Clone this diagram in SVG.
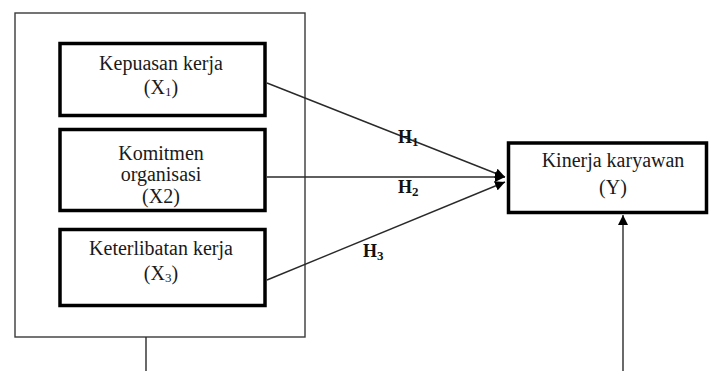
<svg xmlns="http://www.w3.org/2000/svg" width="710" height="371" viewBox="0 0 710 371">
<style>
.frame{fill:none;stroke:#3a3a3a;stroke-width:1.4}
.node{fill:#fff;stroke:#000;stroke-width:3.5}
.t{font-family:"Liberation Serif","Times New Roman",serif;font-size:20px;fill:#1a1a1a;text-anchor:middle}
.h{font-family:"Liberation Serif","Times New Roman",serif;font-size:18px;font-weight:bold;fill:#111}
.sub{font-size:13px}
.c{fill:none;stroke:#2a2a2a;stroke-width:1.4}
</style>
<defs>
<marker id="ah" viewBox="0 0 10 10" refX="10" refY="5" markerWidth="10" markerHeight="10" markerUnits="userSpaceOnUse" orient="auto">
<path d="M0,0 L10,5 L0,10 z" fill="#000"/>
</marker>
</defs>
<rect id="frame" class="frame" x="15" y="13" width="290" height="324"/>
<g id="connectors">
<line class="c" x1="267" y1="83" x2="505" y2="177" marker-end="url(#ah)"/>
<line class="c" x1="267" y1="177" x2="505" y2="177" marker-end="url(#ah)"/>
<line class="c" x1="267" y1="280" x2="505" y2="182" marker-end="url(#ah)"/>
<line class="c" x1="146" y1="337" x2="146" y2="371"/>
<line class="c" x1="623" y1="371" x2="623" y2="215" marker-end="url(#ah)"/>
<text class="h" x="398" y="143">H<tspan class="sub" dy="3">1</tspan></text>
<text class="h" x="398" y="193">H<tspan class="sub" dy="3">2</tspan></text>
<text class="h" x="363" y="257">H<tspan class="sub" dy="3">3</tspan></text>
</g>
<g id="x1">
<rect class="node" x="60" y="43.5" width="205" height="72"/>
<text class="t" x="161" y="70">Kepuasan kerja</text>
<text class="t" x="161" y="94">(X<tspan class="sub" dy="2">1</tspan><tspan dy="-2">)</tspan></text>
</g>
<g id="x2">
<rect class="node" x="60" y="129.5" width="205" height="81"/>
<text class="t" x="161" y="160">Komitmen</text>
<text class="t" x="161" y="181">organisasi</text>
<text class="t" x="161" y="203">(X2)</text>
</g>
<g id="x3">
<rect class="node" x="60" y="229.5" width="205" height="76"/>
<text class="t" x="161" y="255">Keterlibatan kerja</text>
<text class="t" x="161" y="280">(X<tspan class="sub" dy="2">3</tspan><tspan dy="-2">)</tspan></text>
</g>
<g id="y">
<rect class="node" x="508.5" y="143" width="198" height="69.5"/>
<text class="t" x="613" y="167">Kinerja karyawan</text>
<text class="t" x="613" y="194">(Y)</text>
</g>
</svg>
